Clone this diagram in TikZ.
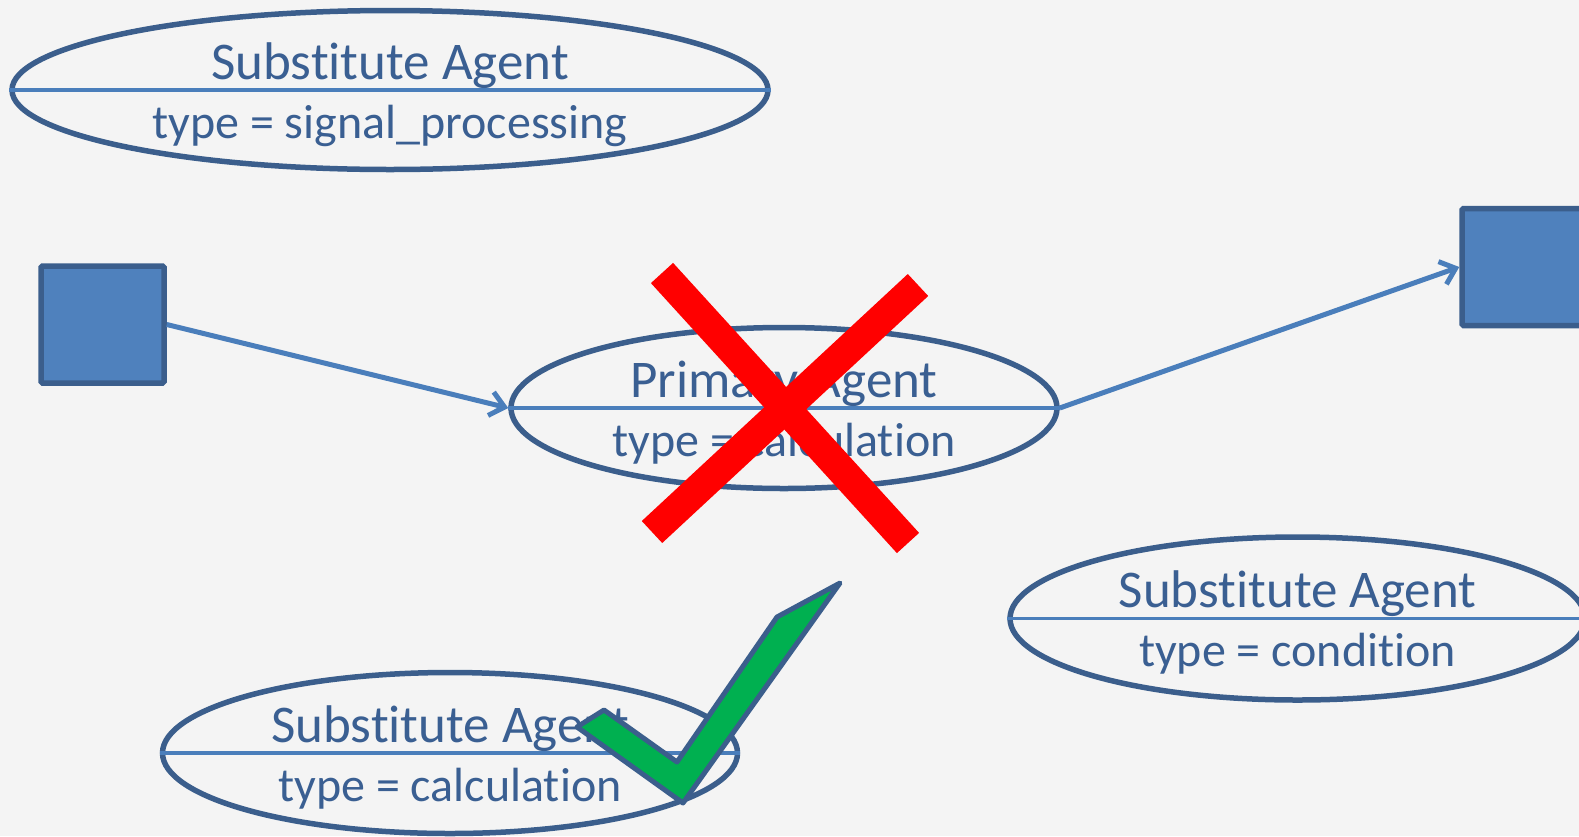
\documentclass[tikz,border=0pt]{standalone}
\usepackage{fontspec}
\setmainfont[Ligatures=CommonOff]{Carlito}
\usetikzlibrary{shapes.geometric,arrows.meta}
\definecolor{bgc}{HTML}{F4F4F4}
\definecolor{dkblue}{HTML}{3B5E8C}
\definecolor{txtblue}{HTML}{3A5F92}
\definecolor{lnblue}{HTML}{4A7EBB}
\definecolor{sqfill}{HTML}{4F81BD}
\definecolor{chkgreen}{HTML}{00B050}
\begin{document}
\begin{tikzpicture}[x=1pt,y=-1pt,
  agent/.style={ellipse,draw=dkblue,line width=5.5pt,inner sep=0pt},
  divider/.style={draw=lnblue,line width=3.5pt},
  lbla/.style={text=txtblue,font=\fontsize{53}{60}\selectfont,anchor=base,inner sep=0pt},
  lblb/.style={text=txtblue,font=\fontsize{48}{56}\selectfont,anchor=base,inner sep=0pt},
  sqbox/.style={draw=dkblue,fill=sqfill,line width=5.5pt,rounded corners=1.5pt,minimum width=123pt,minimum height=117pt,inner sep=0pt},
  conn/.style={draw=lnblue,line width=5pt,-{Straight Barb[length=14pt,width=24pt,line width=5pt]}},
  cross/.style={draw=red,line width=30pt,line cap=butt}]
\useasboundingbox (0,0) rectangle (1579,836);
\fill[bgc] (0,0) rectangle (1579,836);
\begin{scope}
\clip (0,0) rectangle (1579,836);
% ellipses
\node[agent,minimum width=756pt,minimum height=159pt] (sa1) at (390,90) {};
\node[agent,minimum width=546pt,minimum height=161pt] (pa) at (784,408) {};
\node[agent,minimum width=575pt,minimum height=161pt] (sa2) at (450,753) {};
\node[agent,minimum width=575pt,minimum height=163pt] (sa3) at (1297.5,618.5) {};
\foreach \e in {sa1,pa,sa2,sa3}{\draw[divider] (\e.west) -- (\e.east);}
\node[lbla] (t1a) at ([yshift=11pt]sa1.center) {Substitute Agent};
\node[lblb] (t1b) at ([yshift=-48pt]sa1.center) {type = signal\_processing};
\node[lbla] (t2a) at ([yshift=11pt]pa.center) {Primary Agent};
\node[lblb] (t2b) at ([yshift=-48pt]pa.center) {type = calculation};
\node[lbla] (t3a) at ([yshift=11pt]sa2.center) {Substitute Agent};
\node[lblb] (t3b) at ([yshift=-48pt]sa2.center) {type = calculation};
\node[lbla] (t4a) at ([yshift=11pt]sa3.center) {Substitute Agent};
\node[lblb] (t4b) at ([yshift=-48pt]sa3.center) {type = condition};
% squares
\node[sqbox] (sq1) at (102.5,324.5) {};
\node[sqbox] (sq2) at (1523.5,267) {};
% connectors
\draw[conn] (sq1.east) -- (pa.west);
\draw[conn] (pa.east) -- (sq2.west);
% red cross
\coordinate (x1a) at (662,273);
\coordinate (x1b) at (908,543);
\coordinate (x2a) at (918,285);
\coordinate (x2b) at (652,532);
\draw[cross] (x1a) -- (x1b);
\draw[cross] (x2a) -- (x2b);
% check mark
\draw[fill=chkgreen,draw=dkblue,line width=5pt,line join=round]
  (840,583) -- (777,617) -- (677,762) -- (604,710) -- (577,727) -- (683,803) -- cycle;
\end{scope}
\end{tikzpicture}
\end{document}
